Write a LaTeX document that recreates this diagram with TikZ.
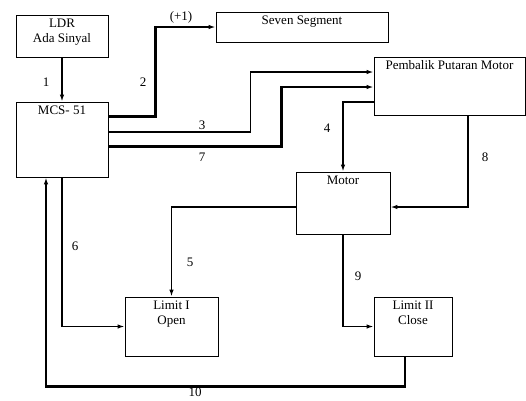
\documentclass[tikz,border=0pt]{standalone}
\usepackage{fontspec}
\setmainfont{Liberation Serif}
\usetikzlibrary{positioning,arrows.meta,calc}
\tikzset{
  blok/.style={draw,line width=0.8pt,inner sep=0pt,minimum width=#1},
  judul/.style={anchor=north,align=center,inner sep=4pt},
  arr/.style={-{Latex[length=7pt,width=4.5pt]},line width=1.4pt},
  arrtb/.style={-{Latex[length=7pt,width=4.5pt]},line width=2.4pt},
  num/.style={inner sep=0pt},
}

\begin{document}
\begin{tikzpicture}[x=1pt,y=-1pt,font=\fontsize{13}{15}\selectfont]
\useasboundingbox (0,0) rectangle (526,400);
% blok-blok
\node[blok=92,minimum height=42,label={[judul]north:LDR\\Ada Sinyal}] (ldr) at (62,36) {};
\node[blok=92,minimum height=75,label={[judul]north:MCS- 51}] (mcs) at (62,139.5) {};
\node[blok=172,minimum height=30,label={[judul]north:Seven Segment}] (seg) at (302,27) {};
\node[blok=151,minimum height=58,label={[judul]north:Pembalik Putaran Motor}] (pem) at (449.5,86) {};
\node[blok=94,minimum height=62,label={[judul]north:Motor}] (motor) at (343,203) {};
\node[blok=93,minimum height=59,label={[judul]north:Limit I\\Open}] (lim1) at (171.5,326.5) {};
\node[blok=78,minimum height=59,label={[judul]north:Limit II\\Close}] (lim2) at (413,326.5) {};

% jalur
\draw[arr] (ldr) -- (mcs);
\draw[arrtb] ([yshift=-15pt]mcs.north east) -- ++(47,0) |- (seg.west);
\draw[arr,line width=1.8pt] ([yshift=-30pt]mcs.north east) -- ++(142,0) |- ([yshift=14pt]pem.west);
\draw[arrtb] ([yshift=-45pt]mcs.north east) -- ++(173,0) |- ([yshift=-1pt]pem.west);
\draw[arr] ([yshift=-16pt]pem.west) -| (motor.north);
\draw[arr,line width=1.8pt] ([xshift=18.5pt]pem.south) |- ([yshift=-4pt]motor.east);
\draw[arr] ([yshift=-4pt]motor.west) -| (lim1.north);
\draw[arr] (mcs.south) |- (lim1.west);
\draw[arr] (motor.south) |- (lim2.west);
\draw[arrtb] ([xshift=-8pt]lim2.south) -- ++(0,30) -| ([xshift=-16pt]mcs.south);

% nomor
\node[num] (n1) at (46,82) {1};
\node[num] (n2) at (143,82) {2};
\node[num] (np) at (181,17) {(+1)};
\node[num] (n3) at (202,125) {3};
\node[num] (n7) at (202,157) {7};
\node[num] (n4) at (327,128) {4};
\node[num] (n8) at (485,157) {8};
\node[num] (n5) at (190,262) {5};
\node[num] (n6) at (75,246) {6};
\node[num] (n9) at (358,276) {9};
\node[num] (n10) at (195,392) {10};
\end{tikzpicture}
\end{document}
